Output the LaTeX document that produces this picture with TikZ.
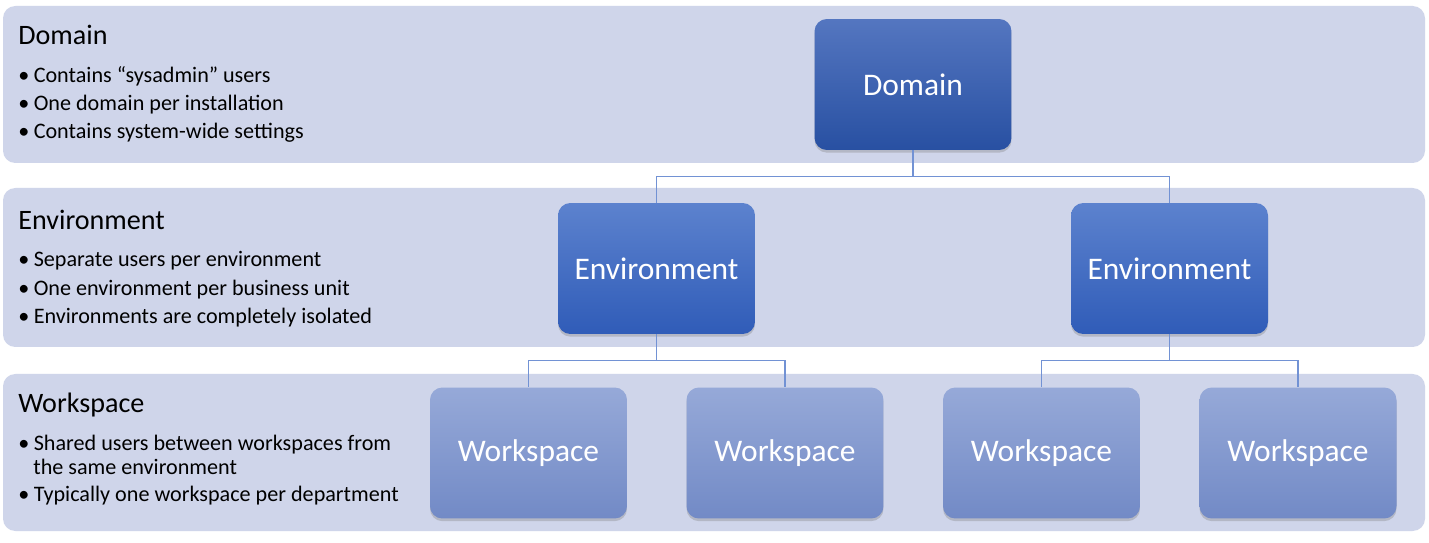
\documentclass[tikz,border=0pt]{standalone}
\usepackage{fontspec}
\setmainfont{Carlito}
\usetikzlibrary{positioning, shadows}
\definecolor{bandfill}{RGB}{207,213,234}
\definecolor{linkblue}{RGB}{114,146,212}
\definecolor{unittop}{RGB}{92,130,206}
\definecolor{unitbot}{RGB}{48,92,184}
\definecolor{domtop}{RGB}{84,118,192}
\definecolor{dombot}{RGB}{40,80,162}
\definecolor{wstop}{RGB}{150,169,216}
\definecolor{wsbot}{RGB}{114,138,198}

\begin{document}
\begin{tikzpicture}[
  x=0.02cm, y=-0.02cm,
  band/.style={fill=bandfill, rounded corners=7pt},
  unitbox/.style={rectangle, rounded corners=7pt, minimum width=3.94cm,
                  minimum height=2.62cm, top color=unittop, bottom color=unitbot,
                  text=white, font=\fontsize{17.9}{20}\selectfont,
                  drop shadow={shadow xshift=0pt, shadow yshift=-1.5pt, opacity=0.35}},
  wsbox/.style={unitbox, top color=wstop, bottom color=wsbot},
  link/.style={draw=linkblue, line width=0.85pt},
  title/.style={anchor=base west, inner sep=0pt, font=\fontsize{16}{19}\selectfont},
  point/.style={anchor=base west, inner sep=0pt, font=\fontsize{12.6}{16}\selectfont}
]
  \useasboundingbox[fill=white] (0,0) rectangle (1429,543);
  % the three bands
  \fill[band] (3,6) rectangle (1425,163);
  \fill[band] (3,188) rectangle (1425,347);
  \fill[band] (3,374) rectangle (1425,531);

  % left hand notes
  \node[title] (domtitle) at (18,45) {Domain};
  \node[point] (dom1) at (18,83) {•\kern0.2em Contains “sysadmin” users};
  \node[point] (dom2) at (18,111) {•\kern0.2em One domain per installation};
  \node[point] (dom3) at (18,139) {•\kern0.2em Contains system-wide settings};

  \node[title] (envtitle) at (18,230) {Environment};
  \node[point] (env1) at (18,267) {•\kern0.2em Separate users per environment};
  \node[point] (env2) at (18,296) {•\kern0.2em One environment per business unit};
  \node[point] (env3) at (18,324) {•\kern0.2em Environments are completely isolated};

  \node[title] (wstitle) at (18,413) {Workspace};
  \node[point] (ws1) at (18,450) {•\kern0.2em Shared users between workspaces from};
  \node[point] (ws1b) at (33,474) {the same environment};
  \node[point] (ws2) at (18,501) {•\kern0.2em Typically one workspace per department};

  % hierarchy
  \node[unitbox, top color=domtop, bottom color=dombot] (dom) at (913,84.5) {Domain};
  \node[unitbox] (envA) at (656.5,268.5) {Environment};
  \node[unitbox] (envB) at (1169.5,268.5) {Environment};
  \node[wsbox] (wsA) at (528.5,453) {Workspace};
  \node[wsbox] (wsB) at (785,453) {Workspace};
  \node[wsbox] (wsC) at (1041.5,453) {Workspace};
  \node[wsbox] (wsD) at (1298,453) {Workspace};

  \draw[link] (dom.south) -- ++(0,26) -| (envA.north);
  \draw[link] (dom.south) -- ++(0,26) -| (envB.north);
  \draw[link] (envA.south) -- ++(0,26) -| (wsA.north);
  \draw[link] (envA.south) -- ++(0,26) -| (wsB.north);
  \draw[link] (envB.south) -- ++(0,26) -| (wsC.north);
  \draw[link] (envB.south) -- ++(0,26) -| (wsD.north);
\end{tikzpicture}
\end{document}
